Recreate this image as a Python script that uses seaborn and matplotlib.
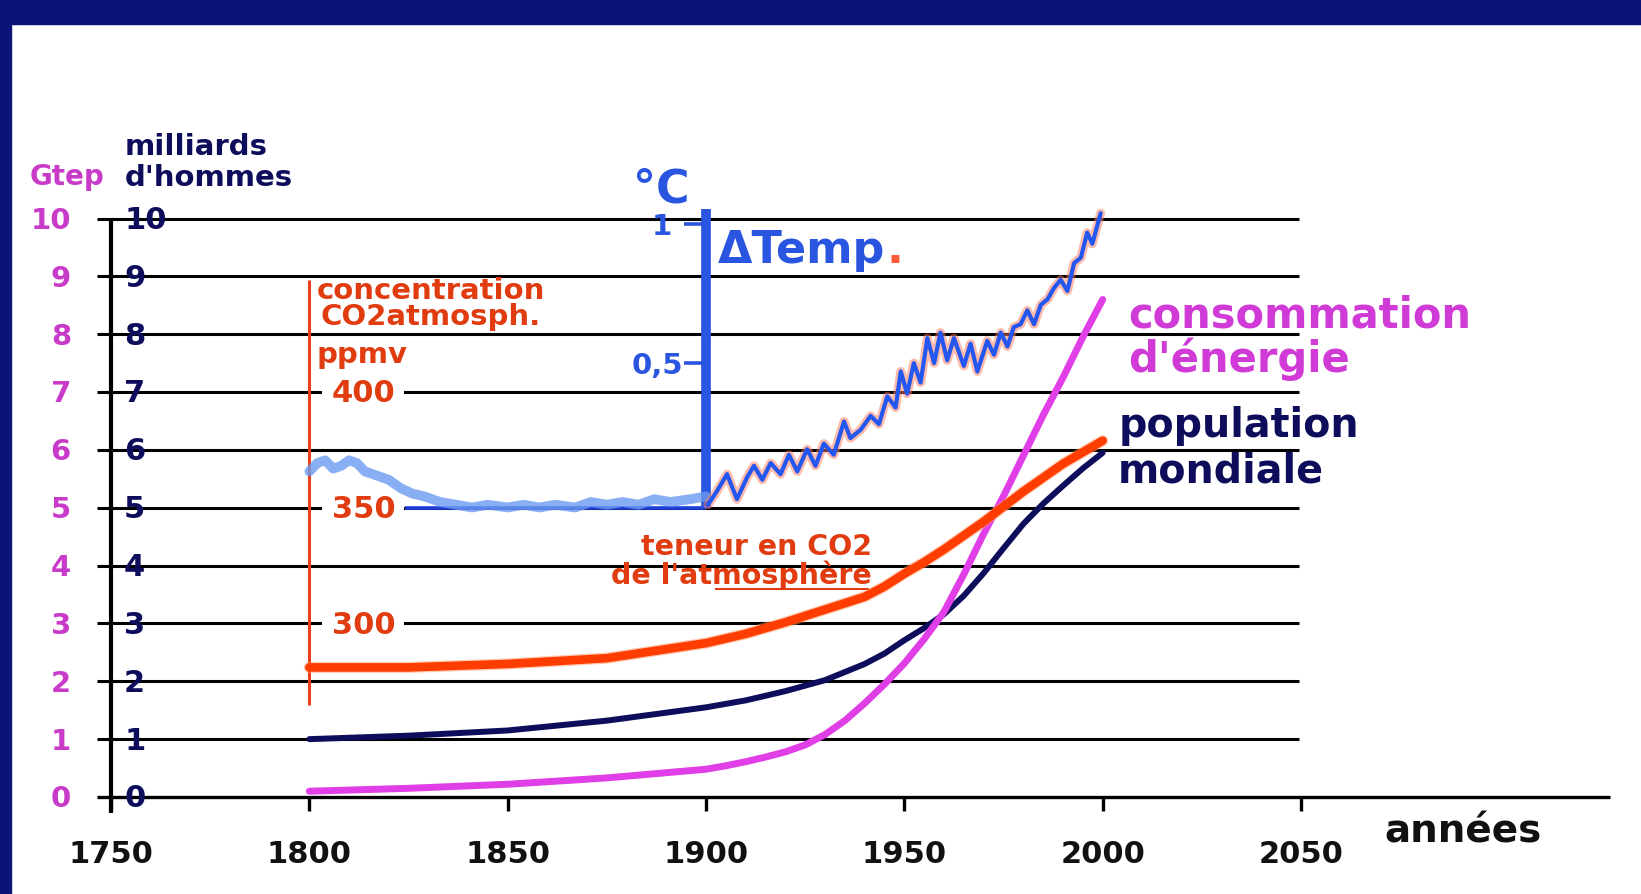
import matplotlib
matplotlib.use("Agg")
import matplotlib.pyplot as plt
import matplotlib.patheffects as pe
from matplotlib.patches import Rectangle
import seaborn as sns

# ------------------------------------------------------------------ data
years_pop = [1800, 1825, 1850, 1875, 1900, 1910, 1920, 1930, 1940, 1945, 1950, 1955, 1960, 1965,
             1970, 1975, 1980, 1985, 1990, 1995, 2000]
population = [1.0, 1.06, 1.15, 1.32, 1.55, 1.67, 1.83, 2.02, 2.30, 2.48, 2.71, 2.92, 3.16, 3.48,
              3.87, 4.30, 4.72, 5.07, 5.38, 5.68, 5.95]                                  # milliards d'hommes

years_energy = [1800, 1825, 1850, 1875, 1900, 1905, 1910, 1915, 1920, 1925, 1930, 1935, 1940, 1945,
                1950, 1955, 1960, 1965, 1970, 1975, 1980, 1985, 1990, 1995, 2000]
energy = [0.10, 0.15, 0.22, 0.33, 0.48, 0.54, 0.61, 0.69, 0.78, 0.90, 1.08, 1.32, 1.62, 1.95,
          2.31, 2.73, 3.20, 3.85, 4.55, 5.20, 5.90, 6.60, 7.25, 7.95, 8.60]              # Gtep

years_co2 = [1800, 1825, 1850, 1875, 1900, 1910, 1920, 1930, 1940, 1945, 1950, 1955, 1960, 1965,
             1970, 1975, 1980, 1985, 1990, 1995, 2000]
co2_ppm = [281, 281, 282.5, 285, 291.5, 295.5, 300.5, 306, 311.5, 316, 321.5, 326.5, 332, 338,
           344, 350.5, 357, 363, 369, 374, 379]                                          # ppmv

years_temp_early = [1800, 1802, 1804, 1806, 1808, 1810, 1812, 1814, 1816, 1818, 1820, 1823, 1826, 1829,
                    1833, 1837, 1841, 1845, 1850, 1854, 1858, 1862, 1867, 1871, 1875, 1879, 1883, 1887,
                    1891, 1896, 1900]
temp_early = [0.11, 0.14, 0.15, 0.12, 0.13, 0.15, 0.14, 0.11, 0.10, 0.09, 0.08, 0.05, 0.03, 0.02,
              0.00, -0.01, -0.02, -0.01, -0.02, -0.01, -0.02, -0.01, -0.02, 0.0, -0.01, 0.0, -0.01, 0.01,
              0.0, 0.01, 0.02]

years_temp = [1900.5, 1902.8, 1905.3, 1907.8, 1910.4, 1912.1, 1914.2, 1916.3, 1918.8, 1920.9, 1923.0,
              1925.5, 1927.6, 1929.7, 1932.2, 1934.8, 1936.4, 1939.0, 1941.5, 1943.6, 1945.7, 1947.8,
              1949.1, 1950.7, 1952.4, 1954.1, 1955.8, 1957.5, 1959.1, 1960.8, 1962.5, 1965.0, 1966.7,
              1968.4, 1970.9, 1972.6, 1974.3, 1976.0, 1977.6, 1979.3, 1981.0, 1982.7, 1984.4, 1986.1,
              1987.7, 1989.4, 1991.1, 1992.8, 1994.5, 1996.1, 1997.4, 1999.5]
temp = [-0.01, 0.04, 0.10, 0.01, 0.09, 0.13, 0.08, 0.14, 0.10, 0.17, 0.11,
        0.19, 0.13, 0.21, 0.17, 0.29, 0.23, 0.26, 0.31, 0.28, 0.38, 0.34,
        0.47, 0.39, 0.50, 0.43, 0.59, 0.50, 0.61, 0.51, 0.59, 0.49, 0.57,
        0.47, 0.58, 0.53, 0.61, 0.56, 0.63, 0.64, 0.69, 0.64, 0.71, 0.73,
        0.77, 0.80, 0.76, 0.86, 0.88, 0.97, 0.93, 1.04]                                 # °C

x_ticks = [1750, 1800, 1850, 1900, 1950, 2000, 2050]
y_ticks = list(range(0, 11))
co2_ticks = [300, 350, 400]
temp_ticks = [0.5, 1.0]
temp_tick_labels = ["0,5", "1"]

# ------------------------------------------------------------------ style
sns.set_style("white")
plt.rcParams["font.family"] = ["DejaVu Sans"]
plt.rcParams["font.weight"] = "bold"

NAVY_BG = "#0a1478"
MAGENTA = "#e03ee6"
MAGENTA_TXT = "#c83ac8"
NAVY = "#0d0d5c"
CO2_COL = "#ff3d00"
RED_TXT = "#e03c10"
BLUE = "#2456f0"
BLUE_TXT = "#2a55e0"

# pixel geometry of the reference
W, H = 1641, 894
PX_YEAR = 3.9667          # pixels per year
X0_PX = 111               # pixel of 1750
PX_UNIT = 57.85           # pixels per left-axis unit
Y0_PX = 97                # pixel (from bottom) of value 0
xlim = (1750 - X0_PX / PX_YEAR, 1750 + (W - X0_PX) / PX_YEAR)
ylim = (-Y0_PX / PX_UNIT, (H - Y0_PX) / PX_UNIT)


def to_ppm(v):            # left-axis unit -> CO2 scale (300 ppm at 3, 25 ppm per unit)
    return 225 + 25 * v


def to_temp(v):           # left-axis unit -> temperature scale (0 °C at 5.1, 4.8 units per °C)
    return (v - 5.1) / 4.8


co2_lim = tuple(to_ppm(v) for v in ylim)
t_lim = tuple(to_temp(v) for v in ylim)

fig = plt.figure(figsize=(W / 100, H / 100), dpi=100, facecolor="white")
ax = fig.add_axes([0, 0, 1, 1])
ax.patch.set_visible(False)
ax_co2 = ax.twinx()
ax_t = ax.twinx()

# ------------------------------------------------------------------ grid / axes
ax.hlines(y_ticks[1:], 1746.5, 2049.5, color="black", lw=2.2, zorder=1)
ax.hlines(0, 1746.5, 2128, color="black", lw=2.4, zorder=1)
ax.vlines(1750, -0.28, 10, color="black", lw=3.0, zorder=1)
ax.vlines(x_ticks, -0.25, 0, color="black", lw=2.4, zorder=1)

# blue base of the temperature sub-graph
ax.hlines(5, 1824, 1900, color="#1e3ed8", lw=2.6, zorder=2)

# ------------------------------------------------------------------ series
sns.lineplot(x=years_pop, y=population, ax=ax, color=NAVY, linewidth=4.3, zorder=3,
             solid_capstyle="round")
sns.lineplot(x=years_energy, y=energy, ax=ax, color=MAGENTA, linewidth=5.0, zorder=4,
             solid_capstyle="round")

sns.lineplot(x=years_co2, y=co2_ppm, ax=ax_co2, color=CO2_COL, linewidth=6.2, zorder=3,
             solid_capstyle="round")
ax_co2.lines[-1].set_path_effects([pe.Stroke(linewidth=8.0, foreground="#ff9a66", alpha=0.5), pe.Normal()])

sns.lineplot(x=years_temp_early, y=temp_early, ax=ax_t, color="#6b9af0", linewidth=7, alpha=0.8,
             zorder=3, solid_capstyle="round")
sns.lineplot(x=years_temp, y=temp, ax=ax_t, color=BLUE, linewidth=3.0, zorder=4)
ax_t.lines[-1].set_path_effects([pe.Stroke(linewidth=6.5, foreground="#ff7a5a", alpha=0.5), pe.Normal()])

# CO2 sub-axis
ax_co2.vlines(1800, to_ppm(1.59), to_ppm(8.93), color="#e8401a", lw=2.2, zorder=2)
for p in co2_ticks:
    ax_co2.text(1805.6, p - 4.5, str(p), ha="left", va="baseline", fontsize=22, color=RED_TXT,
                zorder=5, bbox=dict(boxstyle="square,pad=0.3", fc="white", ec="none"))
ax_co2.text(1801.9, to_ppm(8.61), "concentration", fontsize=21, color=RED_TXT, ha="left", va="baseline")
ax_co2.text(1802.7, to_ppm(8.16), "CO2atmosph.", fontsize=21, color=RED_TXT, ha="left", va="baseline")
ax_co2.text(1801.9, to_ppm(7.50), "ppmv", fontsize=21, color=RED_TXT, ha="left", va="baseline")

# temperature sub-axis
ax_t.vlines(1900, to_temp(5.0), to_temp(10.17), color=BLUE_TXT, lw=7, zorder=2)
for t, lab in zip(temp_ticks, temp_tick_labels):
    ax_t.hlines(t, 1894.5, 1900, color=BLUE_TXT, lw=2.6)
    ax_t.text(1894.3 if lab != "1" else 1891.5, t - 0.038, lab, ha="right", va="baseline",
              fontsize=21, color=BLUE_TXT)
ax_t.text(1881.6, 1.08, "°C", fontsize=33, color=BLUE_TXT, ha="left", va="baseline")
tt = ax_t.text(1903, 0.86, "ΔTemp", fontsize=32, color=BLUE_TXT, ha="left", va="baseline")
ax_t.annotate(".", xy=(1, 0), xycoords=tt, xytext=(1, 0), textcoords="offset points",
              fontsize=32, color="#ff5a3a", ha="left", va="bottom")

# ------------------------------------------------------------------ tick labels
for k in y_ticks:
    ax.text(1739.9, k - 0.18, str(k), ha="right", va="baseline", fontsize=21, color=MAGENTA_TXT, zorder=6)
    ax.text(1753.3, k - 0.18, str(k), ha="left", va="baseline", fontsize=22, color=NAVY, zorder=6)
for yr in x_ticks:
    ax.text(yr, -1.14, str(yr), ha="center", va="baseline", fontsize=22, color="#111111")

ax.text(1739.0, 10.58, "Gtep", ha="center", va="baseline", fontsize=20, color=MAGENTA_TXT)
ax.text(1753.5, 11.10, "milliards", ha="left", va="baseline", fontsize=21, color=NAVY)
ax.text(1753.5, 10.56, "d'hommes", ha="left", va="baseline", fontsize=21, color=NAVY)
ax.text(2070.9, -0.795, "années", ha="left", va="baseline", fontsize=28, color="#111111")

# series annotations
ax.text(1941.9, 4.19, "teneur en CO2", ha="right", va="baseline", fontsize=20.5, color=RED_TXT)
ax.text(1941.9, 3.68, "de l'atmosphère", ha="right", va="baseline", fontsize=20.5, color=RED_TXT)
ax.hlines(3.60, 1902.3, 1941.1, color=RED_TXT, lw=1.5)
ax.text(2006.4, 8.12, "consommation", ha="left", va="baseline", fontsize=30, color="#d03ad6")
ax.text(2006.4, 7.35, "d'énergie", ha="left", va="baseline", fontsize=30, color="#d03ad6")
ax.text(2003.9, 6.22, "population", ha="left", va="baseline", fontsize=28.5, color=NAVY)
ax.text(2003.9, 5.43, "mondiale", ha="left", va="baseline", fontsize=28.5, color=NAVY)

# ------------------------------------------------------------------ limits
for a in (ax, ax_co2, ax_t):
    a.axis("off")
    a.set_xlim(*xlim)
ax.set_ylim(*ylim)
ax_co2.set_ylim(*co2_lim)
ax_t.set_ylim(*t_lim)

# navy frame (top and left)
fig.add_artist(Rectangle((0, 1 - 24 / H), 1, 24 / H, transform=fig.transFigure, color=NAVY_BG, zorder=10))
fig.add_artist(Rectangle((0, 0), 11 / W, 1, transform=fig.transFigure, color=NAVY_BG, zorder=10))

fig.savefig("out.png", dpi=100, facecolor="white")
